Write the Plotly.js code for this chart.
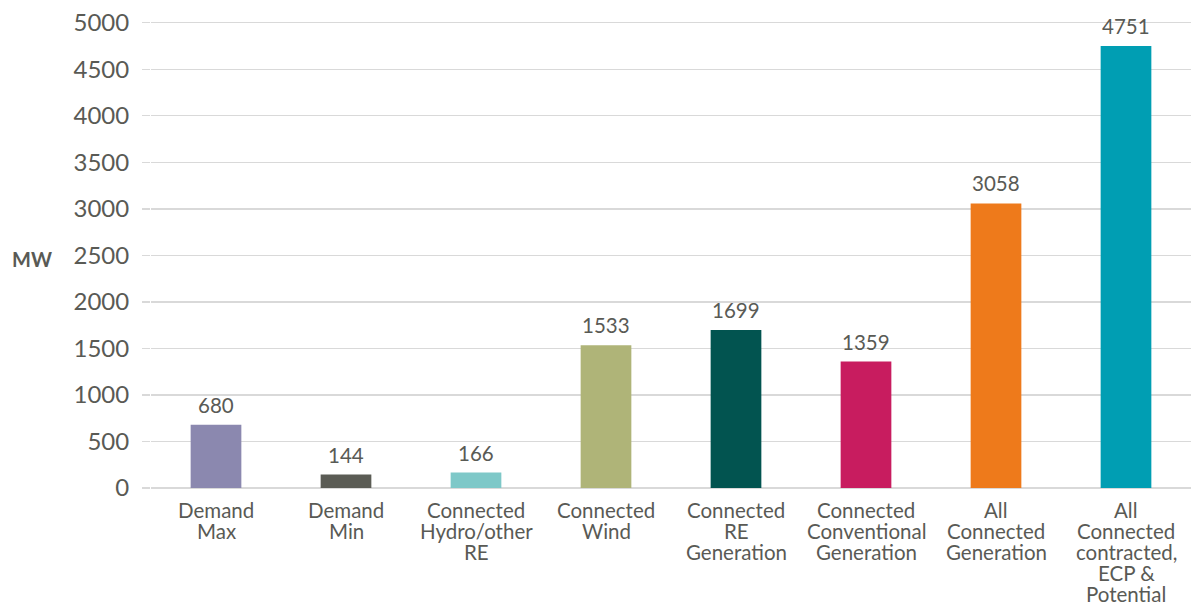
<!DOCTYPE html>
<html>
<head>
<meta charset="utf-8">
<script src="https://cdn.plot.ly/plotly-3.0.1.min.js"></script>
<style>
  html, body { margin: 0; padding: 0; background: #ffffff; }
  #chart { width: 1192px; height: 603px; }
</style>
</head>
<body>
<div id="chart"></div>
<script>
// Capacity and demand figures, MW
const categories = [
  "Demand<br>Max",
  "Demand<br>Min",
  "Connected<br>Hydro/other<br>RE",
  "Connected<br>Wind",
  "Connected<br>RE<br>Generation",
  "Connected<br>Conventional<br>Generation",
  "All<br>Connected<br>Generation",
  "All<br>Connected<br>contracted,<br>ECP &amp;<br>Potential"
];
const valuesMW = [680, 144, 166, 1533, 1699, 1359, 3058, 4751];
const barColors = ["#8b88af", "#5b5c55", "#7ec8c8", "#afb478", "#025450", "#c81c5f", "#ee7a1b", "#009eb3"];
const yTicks = [0, 500, 1000, 1500, 2000, 2500, 3000, 3500, 4000, 4500, 5000];
const yTitle = "MW";

const textColor = "#595a55";
const gridColor = "#d9d9d9";
const fontFamily = "Lato, 'Open Sans', sans-serif";

// Category keys without markup, used as the x coordinates
const xKeys = categories.map(c => c.replace(/<br>/g, " ").replace(/&amp;/g, "&"));

const trace = {
  type: "bar",
  x: xKeys,
  y: valuesMW,
  marker: { color: barColors },
  hoverinfo: "x+y"
};

// Value labels above each bar
const valueLabels = valuesMW.map((v, i) => ({
  x: xKeys[i], y: v, xref: "x", yref: "y",
  text: String(v), showarrow: false,
  yanchor: "bottom", yshift: 6,
  font: { family: fontFamily, size: 20.5, color: textColor }
}));

// Multi-line category labels, one text per line at a tight pitch
const lineStep = 21;
const categoryLabels = [];
categories.forEach((c, i) => {
  c.split("<br>").forEach((line, j) => {
    categoryLabels.push({
      x: xKeys[i], y: 0, xref: "x", yref: "paper",
      text: line, showarrow: false,
      yanchor: "middle", yshift: -22 - j * lineStep,
      font: { family: fontFamily, size: 20.5, color: textColor }
    });
  });
});

const titleLabel = {
  x: -0.1145, y: 0.49, xref: "paper", yref: "paper",
  text: "<b>" + yTitle + "</b>", showarrow: false,
  xanchor: "center", yanchor: "middle",
  font: { family: fontFamily, size: 20, color: textColor }
};

const layout = {
  width: 1192, height: 603,
  margin: { l: 151, r: 1, t: 20, b: 115, pad: 0 },
  paper_bgcolor: "#ffffff", plot_bgcolor: "#ffffff",
  bargap: 0.61,
  showlegend: false,
  xaxis: {
    type: "category",
    showticklabels: false,
    showgrid: false,
    zeroline: false,
    showline: false,
    ticks: "",
    fixedrange: true
  },
  yaxis: {
    range: [0, 5030],
    tickvals: yTicks,
    ticktext: yTicks.map(String),
    showgrid: true, gridcolor: gridColor, gridwidth: 1.3,
    zeroline: true, zerolinecolor: gridColor, zerolinewidth: 1.3,
    showline: false,
    ticks: "outside", ticklen: 8, tickcolor: gridColor, tickwidth: 1.3,
    ticklabelstandoff: 8,
    tickfont: { family: fontFamily, size: 24, color: textColor },
    fixedrange: true
  },
  annotations: valueLabels.concat(categoryLabels, [titleLabel])
};

Plotly.newPlot("chart", [trace], layout, { displayModeBar: false, staticPlot: true });
</script>
</body>
</html>
